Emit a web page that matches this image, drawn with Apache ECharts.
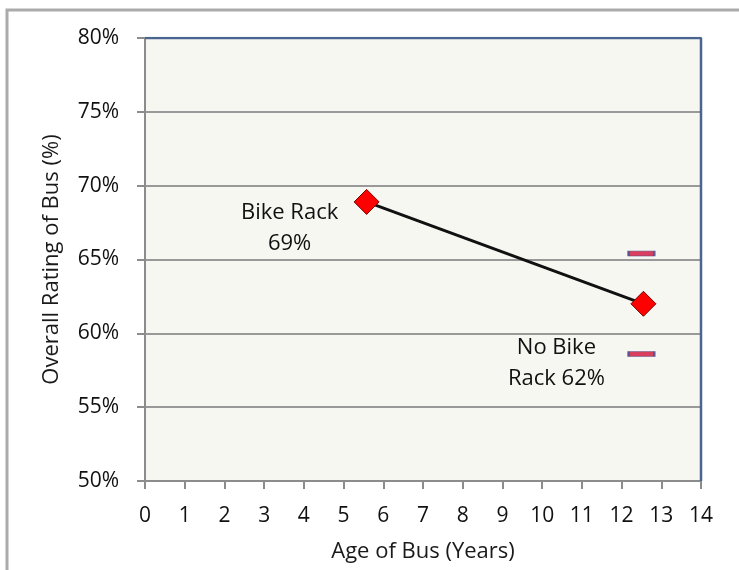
<!DOCTYPE html>
<html><head><meta charset="utf-8">
<script src="https://cdn.jsdelivr.net/npm/echarts@6/dist/echarts.min.js"></script>
<style>html,body{margin:0;padding:0;background:#fff}#c{width:739px;height:570px}</style>
</head><body><div id="c"></div>
<script>
const xTicks = [0, 14, 1];
const yTicks = [0.50, 0.80, 0.05];
const pointNames = ['Bike Rack\n69%', 'No Bike\nRack 62%'];
const ages = [5.58, 12.55];
const ratings = [0.689, 0.62];
const barAges = [12.5, 12.5];
const barValues = [0.654, 0.586];

const FONT = '"Open Sans", sans-serif';
const labelOffsets = [[-77, 26], [-87, 59]];
const chart = echarts.init(document.getElementById('c'));
chart.setOption({
  animation: false,
  graphic: [{type: 'rect', shape: {x: 7, y: 10, width: 760, height: 600},
    style: {fill: 'none', stroke: '#ababab', lineWidth: 3}, z: -1}],
  grid: {left: 145, top: 38, right: 38, bottom: 89, show: true,
    backgroundColor: '#f7f7f2', borderWidth: 0},
  xAxis: {type: 'value', min: xTicks[0], max: xTicks[1], interval: xTicks[2],
    name: 'Age of Bus (Years)', nameLocation: 'middle', nameGap: 60,
    nameTextStyle: {fontFamily: FONT, fontSize: 22, color: '#1a1a1a'},
    axisLine: {lineStyle: {color: '#8c8c8c', width: 2}},
    axisTick: {show: true, length: 8, lineStyle: {color: '#8c8c8c', width: 2}},
    axisLabel: {margin: 25, fontFamily: FONT, fontSize: 21, color: '#111'},
    splitLine: {show: false}},
  yAxis: {type: 'value', min: yTicks[0], max: yTicks[1], interval: yTicks[2],
    name: 'Overall Rating of Bus (%)', nameLocation: 'middle', nameGap: 82,
    nameTextStyle: {fontFamily: FONT, fontSize: 22, color: '#1a1a1a'},
    axisLine: {show: true, lineStyle: {color: '#8c8c8c', width: 2}},
    axisTick: {show: true, length: 8, lineStyle: {color: '#8c8c8c', width: 2}},
    axisLabel: {margin: 26, fontFamily: FONT, fontSize: 21, color: '#111',
      formatter: v => Math.round(v * 100) + '%'},
    splitLine: {lineStyle: {color: '#999', width: 2}}},
  series: [
    {type: 'line', data: ages.map((a, i) => ({value: [a, ratings[i]],
        label: {show: true, formatter: pointNames[i], position: 'inside', offset: labelOffsets[i],
          align: 'center', verticalAlign: 'middle', fontFamily: FONT, fontSize: 22,
          color: '#111', lineHeight: 31}})),
      symbol: 'diamond', symbolSize: 25,
      lineStyle: {color: '#111', width: 3},
      itemStyle: {color: '#ff0000', borderColor: '#7a0000', borderWidth: 1}, z: 3},
    {type: 'scatter', data: barAges.map((a, i) => [a, barValues[i]]),
      symbol: 'rect', symbolSize: [26, 5],
      itemStyle: {color: '#d0103a', borderColor: '#3a4a8a', borderWidth: 1}, z: 2},
    {type: 'line', data: [[xTicks[0], yTicks[1]], [xTicks[1], yTicks[1]], [xTicks[1], yTicks[0]]],
      symbol: 'none', lineStyle: {color: '#4a6590', width: 2.5}, silent: true, z: 1}
  ]
});
</script></body></html>
